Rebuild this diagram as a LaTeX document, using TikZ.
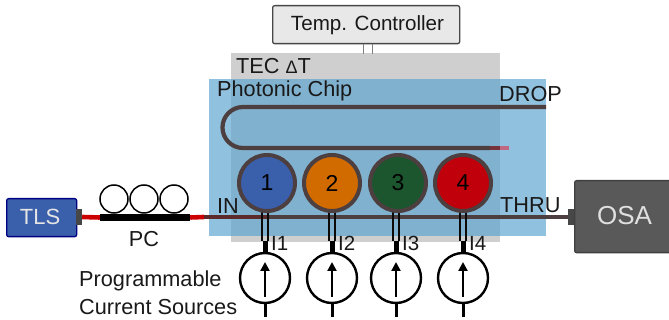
\documentclass[tikz,border=0pt]{standalone}
\usepackage{fontspec}
\setmainfont{Liberation Sans}
\usetikzlibrary{arrows.meta,calc}
\definecolor{wg}{HTML}{4D3F3F}
\definecolor{tlsblue}{HTML}{3A5FAB}
\definecolor{chipblue}{RGB}{92,163,206}
\definecolor{darkbus}{RGB}{92,42,42}
\definecolor{addin}{RGB}{120,50,60}
\definecolor{addout}{RGB}{192,104,130}
\definecolor{ringa}{HTML}{3A5FAB}
\definecolor{ringb}{RGB}{209,107,0}
\definecolor{ringc}{RGB}{28,86,47}
\definecolor{ringd}{RGB}{192,0,11}
\tikzset{
  x=1pt,y=-1pt,
  box/.style={draw,rounded corners=2pt,inner sep=0pt,anchor=north west,line width=1.3pt},
  plate/.style={inner sep=0pt,anchor=north west},
  lbl/.style={inner sep=0pt,anchor=base west,font=\fontsize{21.7}{24}\selectfont,text=black!90},
  clbl/.style={lbl,anchor=base},
  port/.style={fill=black!72,inner sep=0pt,minimum width=6pt,minimum height=16pt},
  ring/.style={circle,draw=wg,line width=4pt,inner sep=0pt,minimum size=56pt,font=\fontsize{23}{24}\selectfont},
  pcloop/.style={circle,draw=black,line width=1.5pt,inner sep=0pt,minimum size=28pt},
  src/.style={circle,draw=black,line width=2.4pt,inner sep=0pt,minimum size=50pt},
  guide/.style={draw=wg,line width=4.2pt},
  fibre/.style={draw=red!80!black,line width=4.6pt},
  lead/.style={draw=black!85!wg,line width=1.4pt},
}
\begin{document}
\begin{tikzpicture}
\clip (0,0) rectangle (669,320);
% plates
\node[plate,fill=black!19,minimum width=269pt,minimum height=189pt] (tec) at (231,53) {};
\node[box,fill=black!9,draw=black!72,minimum width=187pt,minimum height=38pt] (ctl) at (272,5) {};
\node[clbl,font=\fontsize{20.6}{24}\selectfont] (ctltxt) at (367.5,31) {Temp. Controller};
\draw[black!50,line width=1.2pt] ($(ctl.south)+(-2.5,0)$) -- ($(ctl.south)+(-2.5,10)$) coordinate (twina);
\draw[black!50,line width=1.2pt] ($(ctl.south)+(6.5,0)$) -- ($(ctl.south)+(6.5,10)$) coordinate (twinb);
\node[plate,fill=chipblue,fill opacity=.68,minimum width=337pt,minimum height=157pt] (chip) at (209,79) {};
\node[lbl] (tectxt) at (236,74) {TEC {\fontsize{18}{20}\selectfont Δ}T};
\node[lbl] (chiptxt) at (217,97) {Photonic Chip};
\node[lbl] (drop) at (499,102) {DROP};
\node[lbl] (thru) at (500,213) {THRU};
\node[lbl] (in) at (217,214) {IN};
% TLS
\node[box,fill=tlsblue,draw=blue!50!black,minimum width=70pt,minimum height=38pt] (tls) at (6,198) {};
\node[clbl,text=black!10,font=\fontsize{22}{24}\selectfont] (tlstxt) at (40,225) {TLS};
\node[port] (tlsport) at (79,217) {};
% OSA
\node[box,fill=black!65,draw=black!75,minimum width=110pt,minimum height=72pt] (osa) at (574,180) {};
\node[clbl,text=black!12,font=\fontsize{26}{28}\selectfont] (osatxt) at (624.5,225) {OSA};
\node[port] (osaport) at (571,217) {};
% PC
\node[inner sep=0pt,fill=black,minimum width=90pt,minimum height=7pt] (bar) at (145,217.5) {};
\foreach \n/\x in {a/114,b/144,c/174}{\node[pcloop] (loop\n) at (\x,199) {};}
\node[clbl] (pc) at (144,247) {PC};
% Fibres and bus
\coordinate (busend) at (268,217);
\coordinate (chipin) at (204,217);
\draw[fibre] (tlsport.east) -- (bar.west);
\draw[fibre] (bar.east) -- (chipin);
\draw[draw=darkbus,line width=4.2pt] (chipin) -- (busend);
\draw[guide] (busend) -- (osaport.west);
% drop
\coordinate (dropend) at (546,107);
\coordinate (bendtop) at (243,107);
\coordinate (addend) at (490,148);
\coordinate (addtip) at (509,148);
\draw[guide] (dropend) -- (bendtop) arc[start angle=270,end angle=90,radius=20.5] -- (addend);
\draw[draw=addin,line width=4.2pt] (addend) -- (tec.east|-addend);
\draw[draw=addout,line width=4.2pt] (tec.east|-addend) -- (addtip);
% rings, heaters, sources
\foreach \i/\x/\sx/\col in {1/267/265/ringa,2/332/332/ringb,3/398/396/ringc,4/463/463/ringd}{
  \node[src] (s\i) at (\sx,278) {};
  \coordinate (h\i) at (\sx,241);
  \coordinate (c\i) at (\sx,208);
  \draw[lead] ($(c\i)+(-3,0)$) -- ($(h\i)+(-3,0)$);
  \draw[lead] ($(c\i)+(3,0)$) -- ($(h\i)+(3,0)$);
  \node[ring,fill=\col] (r\i) at (\x,183) {\i};
  \draw[black,line width=5pt] (h\i) -- (s\i.north);
  \coordinate (ab\i) at (\sx,297);
  \coordinate (at\i) at (\sx,262);
  \draw[black,line width=2.6pt,-{Triangle[length=9pt,width=9pt]}] (ab\i) -- (at\i);
  \coordinate (t\i) at (\sx,317);
  \draw[black,line width=3pt] (s\i.south) -- (t\i);
  \node[lbl,font=\fontsize{20.5}{22}\selectfont] (il\i) at (\sx+6,251) {I\i};
}
\node[lbl] (prog) at (79,287) {Programmable};
\node[lbl] (cur) at (79,314) {Current Sources};
\end{tikzpicture}
\end{document}
